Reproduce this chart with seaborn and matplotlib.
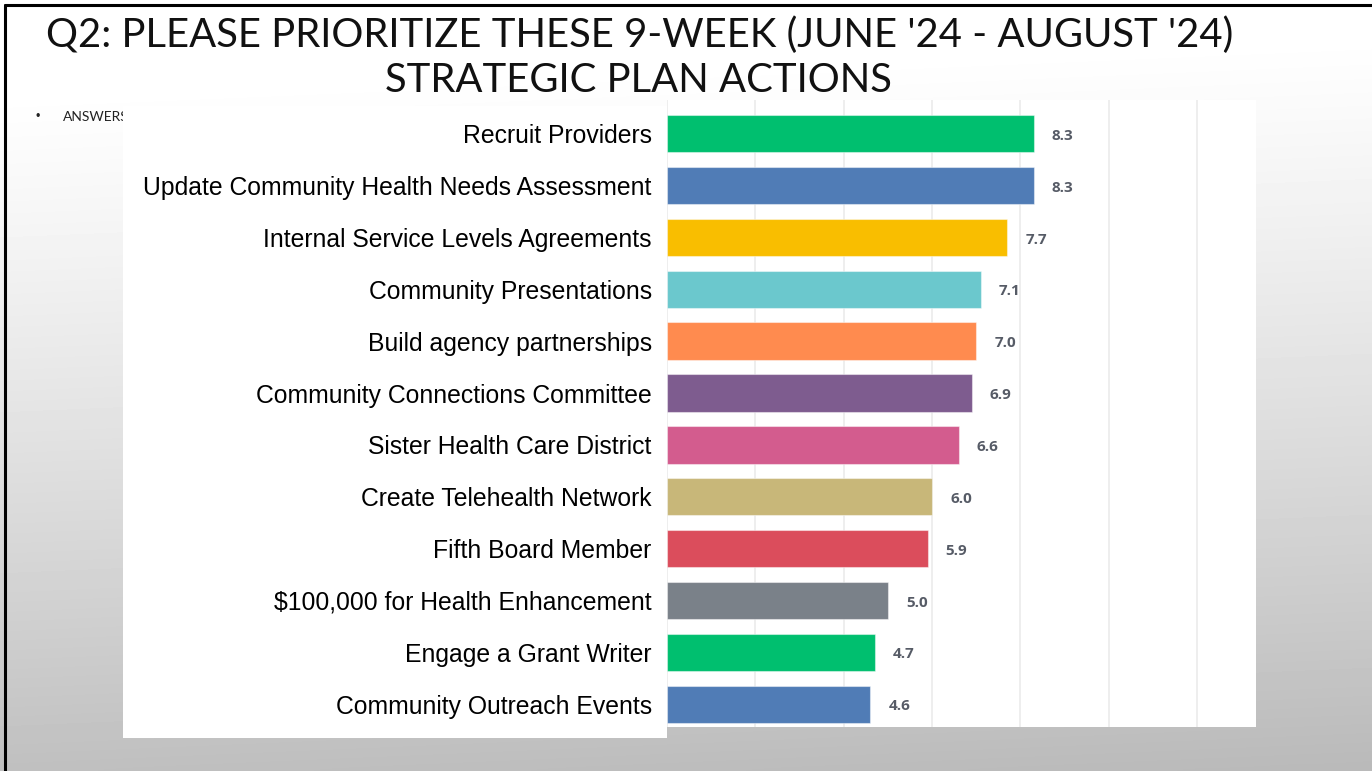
import numpy as np
import pandas as pd
import matplotlib
matplotlib.use("Agg")
import matplotlib.pyplot as plt
from matplotlib.patches import Rectangle
from matplotlib.lines import Line2D
import seaborn as sns

# Survey results: average priority score per strategic plan action
actions = [
    "Recruit Providers",
    "Update Community Health Needs Assessment",
    "Internal Service Levels Agreements",
    "Community Presentations",
    "Build agency partnerships",
    "Community Connections Committee",
    "Sister Health Care District",
    "Create Telehealth Network",
    "Fifth Board Member",
    "$100,000 for Health Enhancement",
    "Engage a Grant Writer",
    "Community Outreach Events",
]
scores = [8.3, 8.3, 7.7, 7.1, 7.0, 6.9, 6.6, 6.0, 5.9, 5.0, 4.7, 4.6]
bar_colors = [
    "#00BF6F", "#507CB6", "#F9BE00", "#6BC8CD", "#FF8B4F", "#7E5C8F",
    "#D35C8E", "#C8B779", "#DB4D5C", "#7A8189", "#00BF6F", "#507CB6",
]
grid_ticks = [0, 2, 4, 6, 8, 10, 12]

title_lines = ["Q2: PLEASE PRIORITIZE THESE 9-WEEK (JUNE '24 - AUGUST '24)",
               "STRATEGIC PLAN ACTIONS"]

df = pd.DataFrame({"action": actions, "score": scores})

sns.set_theme(style="white")
plt.rcParams["font.family"] = ["Liberation Sans", "DejaVu Sans"]

W, H = 1372, 771
fig = plt.figure(figsize=(W / 100, H / 100), dpi=100)

# Slide background with a soft white-to-grey gradient
bg = fig.add_axes([0, 0, 1, 1], zorder=-2)
yy, xx = np.mgrid[0:1:200j, 0:1:200j]
shade = 1.0 - 0.27 * np.clip(yy * 1.05 + 0.08 * xx - 0.12, 0, 1) ** 1.15
bg.imshow(shade, cmap="gray", vmin=0, vmax=1, extent=[0, W, H, 0],
          aspect="auto", interpolation="bicubic")
bg.set_xlim(0, W)
bg.set_ylim(H, 0)
bg.axis("off")

# Slide frame lines
bg.add_line(Line2D([5, W], [5, 5], color="black", lw=2.2, zorder=5))
bg.add_line(Line2D([5, 5], [5, H], color="black", lw=2.2, zorder=5))

# Title
title_font = ["Lato", "DejaVu Sans"]
bg.text(640, 35, title_lines[0], ha="center", va="center", fontsize=28.8,
        family=title_font, color="#111111", zorder=5)
bg.text(638, 81, title_lines[1], ha="center", va="center", fontsize=28.8,
        family=title_font, color="#111111", zorder=5)

# Bullet line partly covered by the label panel
bg.text(36, 117, "\u2022", ha="left", va="center", fontsize=9, color="#222222", zorder=3)
bg.text(63, 117, "ANSWERS", ha="left", va="center", fontsize=10,
        family=title_font, color="#222222", zorder=3)

# White panel behind the category labels
bg.add_patch(Rectangle((123, 106), 667 - 123, 738 - 106, facecolor="white",
                       edgecolor="none", zorder=4))

# Chart panel
left, right, top, bottom = 667, 1256, 100, 727
ax = fig.add_axes([left / W, 1 - bottom / H, (right - left) / W, (bottom - top) / H],
                  zorder=1)
ax.set_facecolor("white")

sns.barplot(data=df, y="action", x="score", hue="action", palette=bar_colors,
            legend=False, orient="h", width=0.72, saturation=1, ax=ax,
            edgecolor=(1, 1, 1, 0.45), linewidth=0.8, zorder=3)

ax.set_xlim(0, 13.33)
ax.set_ylim(len(actions) - 1 + 0.44, -0.65)
ax.set_xticks(grid_ticks)
ax.set_xticklabels([])
ax.grid(axis="x", color="#EBEBEB", lw=1.2, zorder=0)
ax.grid(axis="y", visible=False)
ax.set_axisbelow(True)
for s in ax.spines.values():
    s.set_visible(False)
ax.set_xlabel("")
ax.set_ylabel("")
ax.tick_params(axis="y", length=0, pad=11, labelsize=17.8, labelcolor="black")
ax.tick_params(axis="x", length=0)

for i, v in enumerate(scores):
    ax.annotate(f"{v:.1f}", xy=(v, i), xytext=(13, -1.5), textcoords="offset points",
                ha="left", va="center", fontsize=11, fontweight="bold",
                family=["Open Sans", "DejaVu Sans"], color="#565B66")

fig.savefig("out.png", dpi=100)
